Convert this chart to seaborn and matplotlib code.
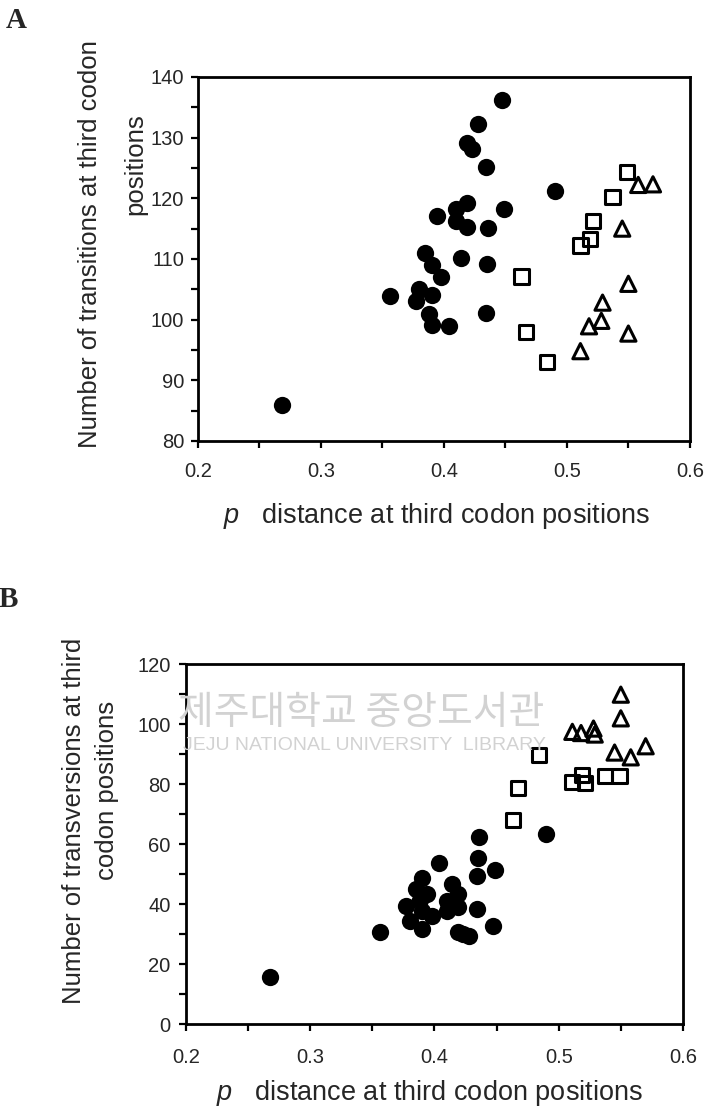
import matplotlib
matplotlib.use("Agg")
import matplotlib.pyplot as plt
from matplotlib.ticker import MultipleLocator
import seaborn as sns

# p distance at third codon positions, shared by both panels
circle_p = [0.268, 0.356, 0.377, 0.380, 0.385, 0.388, 0.390, 0.390, 0.390,
            0.394, 0.398, 0.404, 0.410, 0.410, 0.414, 0.419, 0.419, 0.419,
            0.423, 0.428, 0.434, 0.436, 0.435, 0.434, 0.447, 0.449, 0.490]
circle_ts = [85.9, 103.9, 103.0, 105.1, 111.0, 101.0, 104.0, 109.0, 99.1,
             117.1, 107.1, 99.0, 118.2, 116.2, 110.1, 119.2, 115.2, 129.1,
             128.1, 132.3, 125.2, 115.1, 109.2, 101.1, 136.2, 118.2, 121.2]
circle_tv = [15.6, 30.7, 39.4, 34.4, 45.1, 41.5, 48.8, 37.8, 31.7,
             43.5, 36.0, 53.6, 37.7, 41.0, 46.6, 30.6, 43.3, 38.9,
             30.0, 29.5, 38.2, 62.4, 55.5, 49.4, 32.7, 51.2, 63.3]

square_p = [0.463, 0.467, 0.484, 0.511, 0.519, 0.521, 0.537, 0.549]
square_ts = [107.1, 97.9, 93.0, 112.2, 113.3, 116.2, 120.2, 124.3]
square_tv = [68.0, 78.7, 89.7, 80.8, 83.0, 80.4, 82.6, 82.7]

tri_p = [0.511, 0.518, 0.528, 0.529, 0.545, 0.550, 0.550, 0.558, 0.570]
tri_ts = [94.8, 98.9, 99.8, 102.8, 115.0, 105.9, 97.7, 122.2, 122.3]
tri_tv = [97.4, 97.0, 98.5, 96.5, 90.5, 109.8, 101.9, 88.9, 92.6]

xlabel_txt = "$p$   distance at third codon positions"

sns.set_style("ticks")
plt.rcParams['font.family'] = ['Liberation Sans', 'DejaVu Sans']
plt.rcParams['mathtext.fontset'] = 'custom'
plt.rcParams['mathtext.it'] = 'Liberation Sans:italic'
plt.rcParams['mathtext.rm'] = 'Liberation Sans'

fig = plt.figure(figsize=(7.16, 11.2), dpi=100)
ax_a = fig.add_axes([0.2765, 0.6063, 0.687, 0.325])
ax_b = fig.add_axes([0.2598, 0.0857, 0.694, 0.3214])


def draw(ax, ys):
    sns.scatterplot(x=circle_p, y=ys[0], ax=ax, marker="o", color="black",
                    s=155, linewidth=0)
    sns.scatterplot(x=square_p, y=ys[1], ax=ax, marker="s", facecolor="none",
                    edgecolor="black", s=105, linewidth=2.2)
    sns.scatterplot(x=tri_p, y=ys[2], ax=ax, marker="^", facecolor="none",
                    edgecolor="black", s=120, linewidth=2.2)
    ax.set_xlim(0.2, 0.6)
    ax.xaxis.set_major_locator(MultipleLocator(0.1))
    ax.xaxis.set_minor_locator(MultipleLocator(0.05))
    ax.set_xticklabels([f"{v:.1f}" for v in ax.get_xticks()])
    for sp in ax.spines.values():
        sp.set_linewidth(2)
        sp.set_color("black")
    ax.tick_params(which="both", direction="out", length=5, width=1.6,
                   color="black", labelsize=14.5)


draw(ax_a, [circle_ts, square_ts, tri_ts])
ax_a.set_ylim(80, 140)
ax_a.yaxis.set_major_locator(MultipleLocator(10))
ax_a.yaxis.set_minor_locator(MultipleLocator(5))
ax_a.tick_params(axis="x", which="both", pad=10)
ax_a.tick_params(axis="y", which="both", pad=5)

draw(ax_b, [circle_tv, square_tv, tri_tv])
ax_b.set_ylim(0, 120)
ax_b.yaxis.set_major_locator(MultipleLocator(20))
ax_b.yaxis.set_minor_locator(MultipleLocator(10))
ax_b.tick_params(axis="x", which="both", pad=12)
ax_b.tick_params(axis="y", which="both", pad=6)

# axis titles
ax_a.set_xlabel(xlabel_txt, fontsize=19.5)
ax_a.xaxis.set_label_coords(0.485, -0.165)
ax_b.set_xlabel(xlabel_txt, fontsize=19.5)
ax_b.xaxis.set_label_coords(0.49, -0.15)

ax_a.text(-0.22, 0.54, "Number of transitions at third codon",
          transform=ax_a.transAxes, rotation=90, fontsize=18.5,
          ha="center", va="center")
ax_a.text(-0.127, 0.76, "positions", transform=ax_a.transAxes, rotation=90,
          fontsize=18.5, ha="center", va="center")

ax_b.text(-0.225, 0.565, "Number of transversions at third",
          transform=ax_b.transAxes, rotation=90, fontsize=18.5,
          ha="center", va="center")
ax_b.text(-0.16, 0.65, "codon positions", transform=ax_b.transAxes,
          rotation=90, fontsize=18.5, ha="center", va="center")

# panel letters
fig.text(0.008, 0.982, "A", fontsize=21, fontweight="bold",
         family="Liberation Serif", va="center")
fig.text(-0.002, 0.465, "B", fontsize=21, fontweight="bold",
         family="Liberation Serif", va="center")

# library watermark from the scanned page
fig.text(0.504, 0.3634, "제주대학교 중앙도서관", fontsize=28,
         family=["Noto Sans CJK KR", "DejaVu Sans"], color="#d2d2d2",
         ha="center", va="center", zorder=0)
fig.text(0.509, 0.334, "JEJU NATIONAL UNIVERSITY  LIBRARY", fontsize=14,
         color="#d2d2d2", ha="center", va="center", zorder=0)

fig.savefig("out.png", dpi=100)
